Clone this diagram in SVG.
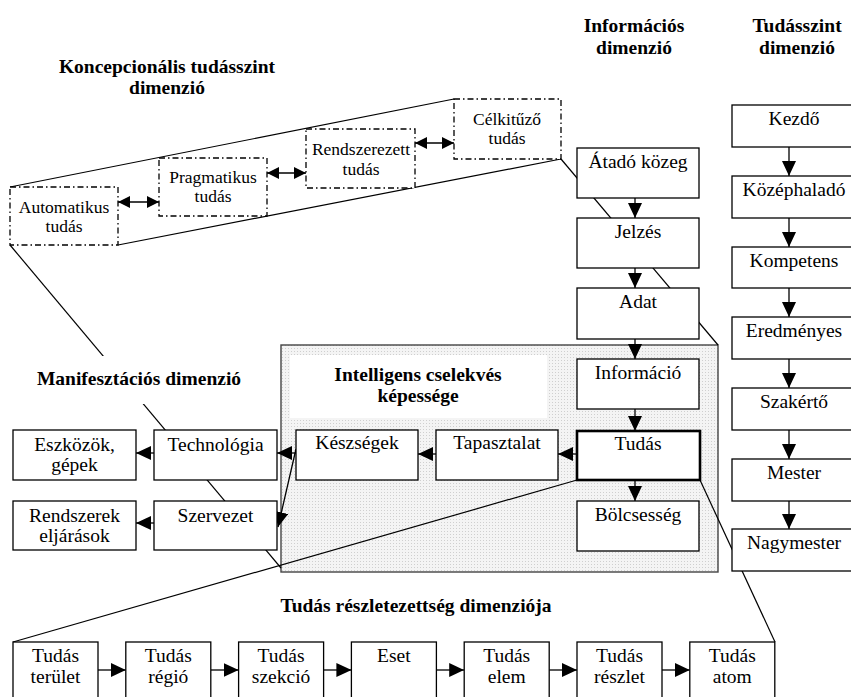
<svg xmlns="http://www.w3.org/2000/svg" width="851" height="697" viewBox="0 0 851 697">
  <style>
    text { font-family: "Liberation Serif", "Times New Roman", serif; fill: #000; text-anchor: middle; }
    .t { font-size: 19.5px; }
    .h { font-size: 19.5px; font-weight: bold; }
    .s { font-size: 17.5px; }
    .box { fill: #fff; stroke: #000; stroke-width: 1.3; }
    .thick { fill: #fff; stroke: #000; stroke-width: 2.6; }
    .dd { fill: #fff; stroke: #000; stroke-width: 1.3; stroke-dasharray: 6 3 1.5 3; }
    .link { fill: none; stroke: #000; stroke-width: 1.2; }
    .arr { fill: none; stroke: #000; stroke-width: 1.3; marker-end: url(#head); }
    .dbl { fill: none; stroke: #000; stroke-width: 1.3; marker-start: url(#small); marker-end: url(#small); }
  </style>
  <defs>
    <marker id="head" markerUnits="userSpaceOnUse" markerWidth="15" markerHeight="14" refX="15" refY="7" orient="auto">
      <path d="M0,0 L15,7 L0,14 Z" fill="#000"/>
    </marker>
    <marker id="small" markerUnits="userSpaceOnUse" markerWidth="12" markerHeight="12" refX="12" refY="6" orient="auto-start-reverse">
      <path d="M0,0 L12,6 L0,12 Z" fill="#000"/>
    </marker>
    <pattern id="stipple" width="3" height="3" patternUnits="userSpaceOnUse">
      <rect width="3" height="3" fill="#f4f4f4"/>
      <rect width="1" height="1" fill="#cfcfcf"/>
    </pattern>
  </defs>

  <rect width="851" height="697" fill="#fff"/>

  <!-- intelligent action panel -->
  <g id="panel-intelligens">
    <rect x="281" y="345" width="437" height="227" fill="url(#stipple)" stroke="#444" stroke-width="1.4"/>
  </g>

  <!-- lines tying the dimensions together -->
  <g id="dimension-links">
    <polyline class="link" points="10,187 454,99"/>
    <polyline class="link" points="118,245 561,159"/>
    <line class="link" x1="10" y1="245" x2="281" y2="568"/>
    <line class="link" x1="561" y1="159" x2="718" y2="345"/>
    <line class="link" x1="577" y1="480" x2="13" y2="642"/>
    <line class="link" x1="700" y1="480" x2="775" y2="642"/>
  </g>

  <!-- titles -->
  <g id="titles">
    <text class="h" x="167" y="73">Koncepcionális tudásszint</text>
    <text class="h" x="167" y="94">dimenzió</text>
    <text class="h" x="634" y="32">Információs</text>
    <text class="h" x="634" y="54">dimenzió</text>
    <text class="h" x="797" y="32">Tudásszint</text>
    <text class="h" x="797" y="54">dimenzió</text>
    <rect x="30" y="356" width="222" height="48" fill="#fff"/>
    <text class="h" x="139" y="385">Manifesztációs dimenzió</text>
    <rect x="290" y="355" width="257" height="63" fill="#fff"/>
    <text class="h" x="418" y="381">Intelligens cselekvés</text>
    <text class="h" x="418" y="402">képessége</text>
    <text class="h" x="416" y="612">Tudás részletezettség dimenziója</text>
  </g>

  <!-- connectors -->
  <g id="connectors">
    <!-- conceptual chain -->
    <line class="dbl" x1="118" y1="202" x2="159" y2="202"/>
    <line class="dbl" x1="267" y1="173" x2="306" y2="173"/>
    <line class="dbl" x1="415" y1="143" x2="454" y2="143"/>
    <!-- information chain -->
    <line class="arr" x1="635" y1="198" x2="635" y2="218"/>
    <line class="arr" x1="635" y1="268" x2="635" y2="288"/>
    <line class="arr" x1="635" y1="339" x2="635" y2="359"/>
    <line class="arr" x1="635" y1="409" x2="635" y2="431"/>
    <line class="arr" x1="635" y1="480" x2="635" y2="501"/>
    <!-- knowledge level chain -->
    <line class="arr" x1="789" y1="147" x2="789" y2="176"/>
    <line class="arr" x1="789" y1="218" x2="789" y2="247"/>
    <line class="arr" x1="789" y1="288" x2="789" y2="317"/>
    <line class="arr" x1="789" y1="359" x2="789" y2="388"/>
    <line class="arr" x1="789" y1="430" x2="789" y2="459"/>
    <line class="arr" x1="789" y1="501" x2="789" y2="529"/>
    <!-- intelligent action -->
    <line class="arr" x1="577" y1="454" x2="558" y2="454"/>
    <line class="arr" x1="436" y1="454" x2="418" y2="454"/>
    <line class="arr" x1="296" y1="453" x2="277" y2="453"/>
    <line class="arr" x1="296" y1="449" x2="278" y2="527"/>
    <!-- manifestation -->
    <line class="arr" x1="154" y1="453" x2="136" y2="453"/>
    <line class="arr" x1="154" y1="523" x2="136" y2="523"/>
    <!-- granularity chain -->
    <line class="arr" x1="98" y1="670" x2="125.8" y2="670"/>
    <line class="arr" x1="210.8" y1="670" x2="238.6" y2="670"/>
    <line class="arr" x1="323.6" y1="670" x2="351.4" y2="670"/>
    <line class="arr" x1="436.4" y1="670" x2="464.2" y2="670"/>
    <line class="arr" x1="549.2" y1="670" x2="577" y2="670"/>
    <line class="arr" x1="662" y1="670" x2="689.8" y2="670"/>
  </g>

  <!-- conceptual knowledge level -->
  <g id="automatikus"><rect class="dd" x="10" y="187" width="108" height="58"/><text class="s" x="64" y="213">Automatikus</text><text class="s" x="64" y="232">tudás</text></g>
  <g id="pragmatikus"><rect class="dd" x="159" y="158" width="108" height="58"/><text class="s" x="213" y="183">Pragmatikus</text><text class="s" x="213" y="202">tudás</text></g>
  <g id="rendszerezett"><rect class="dd" x="306" y="129" width="109" height="59"/><text class="s" x="361" y="155">Rendszerezett</text><text class="s" x="361" y="175">tudás</text></g>
  <g id="celkituzo"><rect class="dd" x="454" y="99" width="107" height="60"/><text class="s" x="507" y="125">Célkitűző</text><text class="s" x="507" y="144">tudás</text></g>

  <!-- information dimension -->
  <g id="atado-kozeg"><rect class="box" x="577" y="148" width="122" height="50"/><text class="t" x="638" y="168">Átadó közeg</text></g>
  <g id="jelzes"><rect class="box" x="577" y="218" width="122" height="50"/><text class="t" x="638" y="238">Jelzés</text></g>
  <g id="adat"><rect class="box" x="577" y="288" width="122" height="51"/><text class="t" x="638" y="308">Adat</text></g>
  <g id="informacio"><rect class="box" x="577" y="359" width="122" height="50"/><text class="t" x="638" y="379">Információ</text></g>
  <g id="tudas"><rect class="thick" x="577" y="431" width="123" height="49"/><text class="t" x="638" y="450">Tudás</text></g>
  <g id="bolcsesseg"><rect class="box" x="577" y="501" width="122" height="50"/><text class="t" x="638" y="521">Bölcsesség</text></g>

  <!-- knowledge level dimension -->
  <g id="kezdo"><rect class="box" x="732" y="105" width="124" height="42"/><text class="t" x="794" y="125">Kezdő</text></g>
  <g id="kozephalado"><rect class="box" x="732" y="176" width="124" height="42"/><text class="t" x="794" y="196">Középhaladó</text></g>
  <g id="kompetens"><rect class="box" x="732" y="247" width="124" height="41"/><text class="t" x="794" y="267">Kompetens</text></g>
  <g id="eredmenyes"><rect class="box" x="732" y="317" width="124" height="42"/><text class="t" x="794" y="337">Eredményes</text></g>
  <g id="szakerto"><rect class="box" x="732" y="388" width="124" height="42"/><text class="t" x="794" y="408">Szakértő</text></g>
  <g id="mester"><rect class="box" x="732" y="459" width="124" height="42"/><text class="t" x="794" y="479">Mester</text></g>
  <g id="nagymester"><rect class="box" x="732" y="529" width="124" height="42"/><text class="t" x="794" y="549">Nagymester</text></g>

  <!-- intelligent action capability -->
  <g id="keszsegek"><rect class="box" x="296" y="430" width="122" height="50"/><text class="t" x="357" y="449">Készségek</text></g>
  <g id="tapasztalat"><rect class="box" x="436" y="430" width="122" height="50"/><text class="t" x="497" y="449">Tapasztalat</text></g>

  <!-- manifestation dimension -->
  <g id="eszkozok"><rect class="box" x="13" y="430" width="123" height="50"/><text class="t" x="74.5" y="451">Eszközök,</text><text class="t" x="74.5" y="471">gépek</text></g>
  <g id="technologia"><rect class="box" x="154" y="430" width="123" height="50"/><text class="t" x="215.5" y="451">Technológia</text></g>
  <g id="rendszerek"><rect class="box" x="13" y="501" width="123" height="49"/><text class="t" x="74.5" y="522">Rendszerek</text><text class="t" x="74.5" y="542">eljárások</text></g>
  <g id="szervezet"><rect class="box" x="154" y="501" width="123" height="49"/><text class="t" x="215.5" y="522">Szervezet</text></g>

  <!-- knowledge granularity dimension -->
  <g id="terulet"><rect class="box" x="13" y="642" width="85" height="60"/><text class="t" x="55.5" y="662">Tudás</text><text class="t" x="55.5" y="683">terület</text></g>
  <g id="regio"><rect class="box" x="125.8" y="642" width="85" height="60"/><text class="t" x="168.3" y="662">Tudás</text><text class="t" x="168.3" y="683">régió</text></g>
  <g id="szekcio"><rect class="box" x="238.6" y="642" width="85" height="60"/><text class="t" x="281.1" y="662">Tudás</text><text class="t" x="281.1" y="683">szekció</text></g>
  <g id="eset"><rect class="box" x="351.4" y="642" width="85" height="60"/><text class="t" x="393.9" y="662">Eset</text></g>
  <g id="elem"><rect class="box" x="464.2" y="642" width="85" height="60"/><text class="t" x="506.7" y="662">Tudás</text><text class="t" x="506.7" y="683">elem</text></g>
  <g id="reszlet"><rect class="box" x="577" y="642" width="85" height="60"/><text class="t" x="619.5" y="662">Tudás</text><text class="t" x="619.5" y="683">részlet</text></g>
  <g id="atom"><rect class="box" x="689.8" y="642" width="85" height="60"/><text class="t" x="732.3" y="662">Tudás</text><text class="t" x="732.3" y="683">atom</text></g>
</svg>
